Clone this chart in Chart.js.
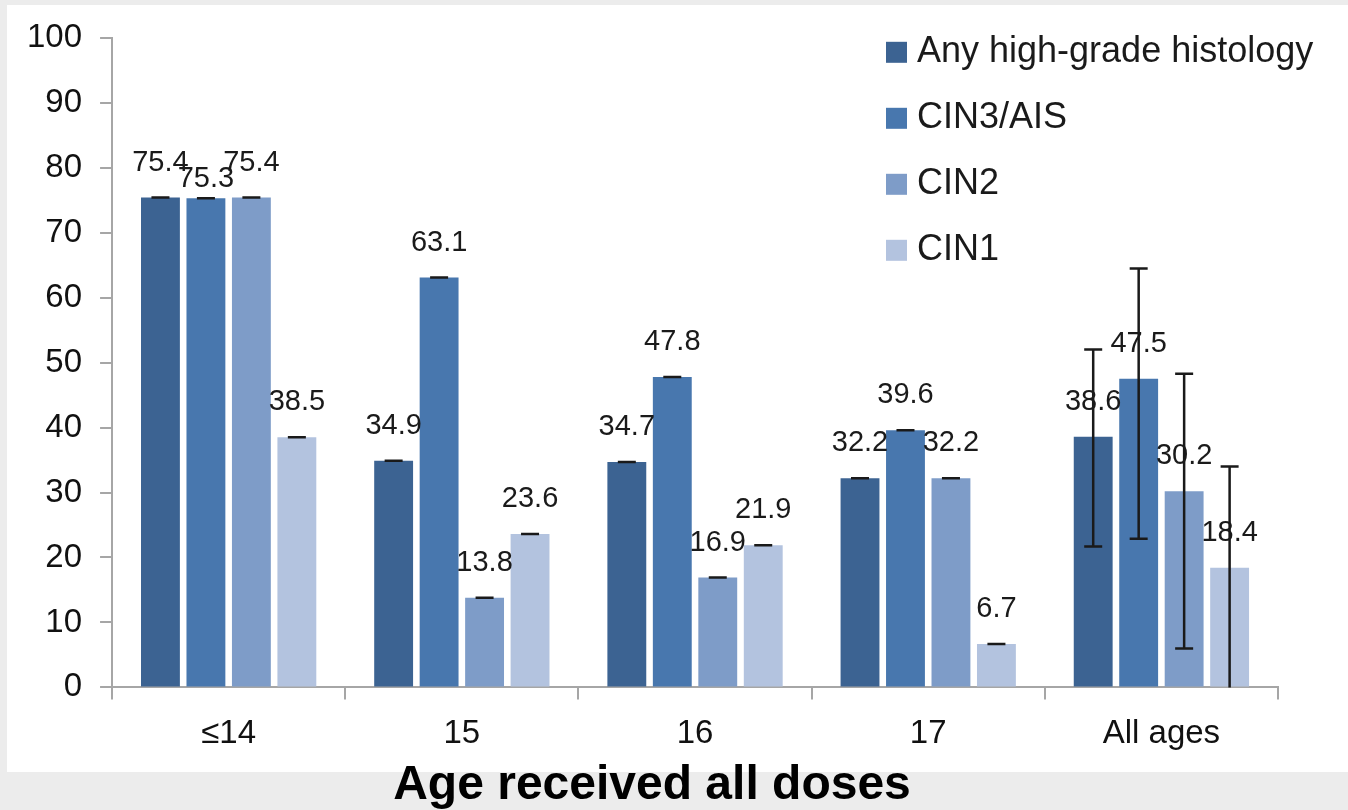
<!DOCTYPE html>
<html>
<head>
<meta charset="utf-8">
<script src="https://cdn.jsdelivr.net/npm/chart.js@4"></script>
<style>
  html, body { margin: 0; padding: 0; }
  body { width: 1348px; height: 810px; background: #ececec; position: relative; overflow: hidden; }
  #panel { position: absolute; left: 7px; top: 5px; right: 0; height: 767px; background: #ffffff; }
  #wrap { position: absolute; left: 0; top: 0; width: 1348px; height: 810px; }
  #xTitle { position: absolute; left: 0; top: 759px; width: 1304px; text-align: center;
            font: bold 48px/48px "Liberation Sans", Arial, Helvetica, sans-serif; color: #000; }
</style>
</head>
<body>
<div id="panel"></div>
<div id="wrap"><canvas id="barChart"></canvas></div>
<div id="xTitle">Age received all doses</div>
<script>
const ages = ['≤14', '15', '16', '17', 'All ages'];
const seriesNames = ['Any high-grade histology', 'CIN3/AIS', 'CIN2', 'CIN1'];
const anyHighGrade = [75.4, 34.9, 34.7, 32.2, 38.6];
const cin3Ais = [75.3, 63.1, 47.8, 39.6, 47.5];
const cin2 = [75.4, 13.8, 16.9, 32.2, 30.2];
const cin1 = [38.5, 23.6, 21.9, 6.7, 18.4];
// confidence limits (only "All ages" has a visible range)
const anyHighGradeLow = [75.4, 34.9, 34.7, 32.2, 21.7];
const anyHighGradeHigh = [75.4, 34.9, 34.7, 32.2, 52.0];
const cin3AisLow = [75.3, 63.1, 47.8, 39.6, 22.9];
const cin3AisHigh = [75.3, 63.1, 47.8, 39.6, 64.5];
const cin2Low = [75.4, 13.8, 16.9, 32.2, 6.0];
const cin2High = [75.4, 13.8, 16.9, 32.2, 48.3];
const cin1Low = [38.5, 23.6, 21.9, 6.7, 0];
const cin1High = [38.5, 23.6, 21.9, 6.7, 34.0];
const yTicks = [0, 10, 20, 30, 40, 50, 60, 70, 80, 90, 100];

const colors = ['#3c6392', '#4877ae', '#7e9cc8', '#b3c3df'];
const FONT = '"Liberation Sans", Arial, Helvetica, sans-serif';
Chart.defaults.font.family = FONT;

const barExtras = {
    id: 'barExtras',
    afterDatasetsDraw(chart) {
        const ctx = chart.ctx;
        const y = chart.scales.y;
        chart.data.datasets.forEach((ds, i) => {
            const meta = chart.getDatasetMeta(i);
            meta.data.forEach((bar, j) => {
                const lo = y.getPixelForValue(ds.errLow[j]);
                const hi = y.getPixelForValue(ds.errHigh[j]);
                ctx.save();
                ctx.strokeStyle = '#1a1a1a';
                ctx.lineWidth = 2.5;
                ctx.beginPath();
                ctx.moveTo(bar.x, hi);
                ctx.lineTo(bar.x, lo);
                ctx.moveTo(bar.x - 9, hi);
                ctx.lineTo(bar.x + 9, hi);
                if (ds.errLow[j] > 0) {
                    ctx.moveTo(bar.x - 9, lo);
                    ctx.lineTo(bar.x + 9, lo);
                }
                ctx.stroke();
                ctx.restore();
            });
        });
        // value labels; a label that would collide with its left neighbour drops down a bit
        ctx.save();
        ctx.fillStyle = '#1a1a1a';
        ctx.font = '29px ' + FONT;
        ctx.textAlign = 'center';
        ctx.textBaseline = 'middle';
        chart.data.labels.forEach((_, j) => {
            let prev = null;
            chart.data.datasets.forEach((ds, i) => {
                const bar = chart.getDatasetMeta(i).data[j];
                const text = ds.data[j].toFixed(1);
                const w = ctx.measureText(text).width;
                const box = { x: bar.x, y: bar.y - 35, w: w, shifted: false };
                if (prev && !prev.shifted &&
                    Math.abs(box.x - prev.x) < (box.w + prev.w) / 2 &&
                    Math.abs(box.y - prev.y) < 28) {
                    box.y += 16;
                    box.shifted = true;
                }
                ctx.fillText(text, box.x, box.y);
                prev = box;
            });
        });
        ctx.restore();
    }
};

const sideLegend = {
    id: 'sideLegend',
    afterDraw(chart) {
        const ctx = chart.ctx;
        const x = chart.chartArea.right - 392;
        chart.data.datasets.forEach((ds, i) => {
            const cy = chart.chartArea.top + 14 + i * 66;
            ctx.save();
            ctx.fillStyle = ds.backgroundColor;
            ctx.fillRect(x, cy - 10, 21, 21);
            ctx.fillStyle = '#1a1a1a';
            ctx.font = '36px ' + FONT;
            ctx.textAlign = 'left';
            ctx.textBaseline = 'middle';
            ctx.fillText(ds.label, x + 31, cy);
            ctx.restore();
        });
    }
};

const values = [anyHighGrade, cin3Ais, cin2, cin1];
const lows = [anyHighGradeLow, cin3AisLow, cin2Low, cin1Low];
const highs = [anyHighGradeHigh, cin3AisHigh, cin2High, cin1High];

const ctx = document.getElementById('barChart').getContext('2d');
new Chart(ctx, {
    type: 'bar',
    data: {
        labels: ages,
        datasets: seriesNames.map((name, i) => ({
            label: name,
            data: values[i],
            errLow: lows[i],
            errHigh: highs[i],
            backgroundColor: colors[i],
            categoryPercentage: 0.78,
            barPercentage: 0.855
        }))
    },
    options: {
        responsive: true,
        maintainAspectRatio: false,
        animation: false,
        layout: { padding: { left: 9, right: 70, top: 20, bottom: 41 } },
        plugins: {
            legend: { display: false },
            tooltip: { enabled: false }
        },
        scales: {
            x: {
                grid: { offset: true, drawOnChartArea: false, tickLength: 12, color: '#a6a6a6', lineWidth: 2 },
                border: { color: '#a6a6a6', width: 2 },
                ticks: { color: '#111', font: { size: 33 }, padding: 15 }
            },
            y: {
                min: 0,
                max: 100,
                afterBuildTicks: (axis) => { axis.ticks = yTicks.map(v => ({ value: v })); },
                grid: { drawOnChartArea: false, tickLength: 12, color: '#a6a6a6', lineWidth: 2 },
                border: { color: '#a6a6a6', width: 2 },
                ticks: { color: '#111', font: { size: 33 }, padding: 18 }
            }
        }
    },
    plugins: [barExtras, sideLegend]
});
</script>
</body>
</html>
